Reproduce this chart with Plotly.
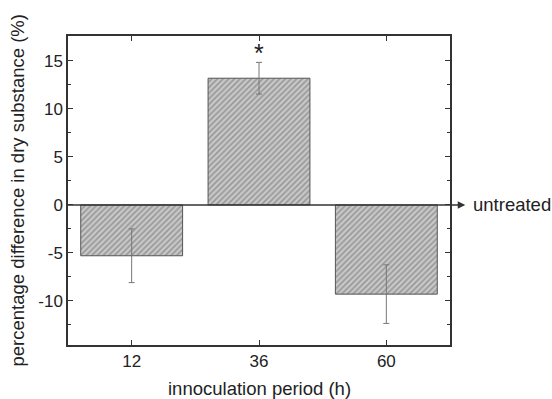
import plotly.graph_objects as go

# inoculation periods and mean percentage difference in dry substance
periods = ["12", "36", "60"]
diff_pct = [-5.3, 13.2, -9.3]
err_pct = [2.8, 1.65, 3.05]
significant = [False, True, False]

# y-axis ticks, labelled with plain hyphens
y_ticks = [-10, -5, 0, 5, 10, 15]
y_tick_text = ["-10", "-5", "0", "5", "10", "15"]
y_minor = [-12.5, -7.5, -2.5, 2.5, 7.5, 12.5, 17.5]

axis_color = "#333333"
text_color = "#222222"
font_family = "Liberation Sans, Arial, sans-serif"

fig = go.Figure()

fig.add_trace(go.Bar(
    x=list(range(len(periods))),
    y=diff_pct,
    width=0.8,
    marker=dict(
        color="#b0b0b0",
        line=dict(color="#555555", width=1),
        pattern=dict(shape="/", fgcolor="#666666", bgcolor="#c8c8c8",
                     size=4, solidity=0.4),
    ),
    error_y=dict(type="data", array=err_pct, visible=True,
                 color="#777777", thickness=1, width=3),
    showlegend=False,
))

# significance markers above the bars
for i, (v, e, s) in enumerate(zip(diff_pct, err_pct, significant)):
    if s:
        fig.add_annotation(x=i, y=v + e, text="*", showarrow=False,
                           yanchor="bottom", yshift=-7,
                           font=dict(size=25, color=text_color, family=font_family))

# reference line at zero (untreated)
fig.add_shape(type="line", xref="x", yref="y", x0=-0.5, x1=2.5, y0=0, y1=0,
              line=dict(color=axis_color, width=1.5))
fig.add_annotation(xref="paper", yref="y", x=1.04, y=0, ax=-16, ay=0,
                   axref="pixel", ayref="pixel", text="", showarrow=True,
                   arrowhead=2, arrowsize=1, arrowwidth=1.5, arrowcolor=axis_color)
fig.add_annotation(xref="paper", yref="y", x=1.055, y=0, text="untreated",
                   showarrow=False, xanchor="left", yanchor="middle",
                   font=dict(size=18.5, color=text_color, family=font_family))

# axis titles
fig.add_annotation(xref="paper", yref="paper", x=0.5, y=-0.142,
                   text="innoculation period (h)", showarrow=False,
                   xanchor="center", yanchor="middle",
                   font=dict(size=18.5, color=text_color, family=font_family))
fig.add_annotation(xref="paper", yref="paper", x=-0.131, y=0.5,
                   text="percentage difference in dry substance (%)",
                   textangle=-90, showarrow=False,
                   xanchor="center", yanchor="middle",
                   font=dict(size=18.5, color=text_color, family=font_family))

fig.update_xaxes(
    range=[-0.5, 2.5], automargin=False,
    tickmode="array", tickvals=list(range(len(periods))), ticktext=periods,
    ticks="inside", ticklen=5, tickcolor=axis_color,
    showline=True, linecolor=axis_color, linewidth=1.5, mirror="ticks",
    showgrid=False, zeroline=False,
    tickfont=dict(size=17, color=text_color, family=font_family),
)
fig.update_yaxes(
    range=[-14.6, 17.6], automargin=False,
    tickmode="array", tickvals=y_ticks, ticktext=y_tick_text,
    ticks="inside", ticklen=5, tickcolor=axis_color,
    minor=dict(tickvals=y_minor, ticks="inside", ticklen=3, tickcolor=axis_color),
    showline=True, linecolor=axis_color, linewidth=1.5, mirror="ticks",
    showgrid=False, zeroline=False,
    tickfont=dict(size=17, color=text_color, family=font_family),
)

fig.update_layout(
    width=552, height=399,
    margin=dict(l=68, r=102, t=36, b=54),
    plot_bgcolor="white", paper_bgcolor="white",
    bargap=0.2,
)

fig.write_html("out.html")
